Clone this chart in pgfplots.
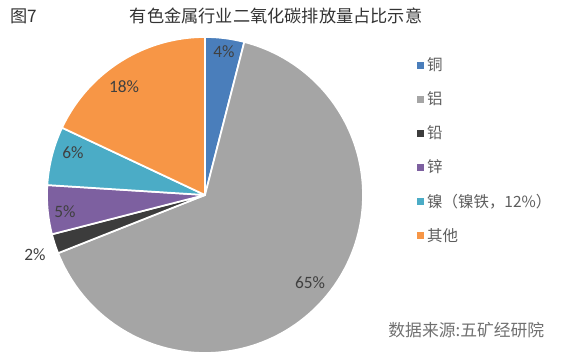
\documentclass[border=0pt]{standalone}
\usepackage{pgfplots}
\pgfplotsset{compat=1.18}
\usepackage{fontspec}
\setmainfont{Carlito}
\newfontfamily\cjk{Noto Sans CJK SC}
\definecolor{cCu}{HTML}{4A7EBB}
\definecolor{cAl}{HTML}{A5A5A5}
\definecolor{cPb}{HTML}{3C3C3C}
\definecolor{cZn}{HTML}{7D60A0}
\definecolor{cNi}{HTML}{4BACC6}
\definecolor{cOt}{HTML}{F79646}
\definecolor{txt}{HTML}{404040}
% #1 cumulative share before this slice (%), #2 share (%), #3 colour
\newcommand{\pieslice}[3]{%
  \addplot[fill=#3, draw=white, line width=1.3pt, line join=round,
    domain={90-3.6*(#1+#2)}:{90-3.6*(#1)}, samples=121, variable=\t]
    ({205+158*cos(\t)},{168+158*sin(\t)}) -- (axis cs:205,168) -- cycle;
}
\begin{document}
\begin{tikzpicture}
\begin{axis}[
  width=426pt, height=272.25pt, scale only axis,
  xmin=0, xmax=568, ymin=0, ymax=363,
  hide axis, clip=false,
  legend style={at={(axis cs:417,308)}, anchor=north west, draw=none, fill=none,
    font=\fontsize{11.6pt}{13pt}\selectfont\cjk, text=txt!85!white,
    row sep=10.3pt, cells={anchor=west}, inner sep=0pt},
  legend image code/.code={\fill[#1, draw=none] (0pt,-2.7pt) rectangle (5.4pt,2.7pt);},
]
\path (axis cs:0,0) (axis cs:568,363);
\pieslice{0}{4}{cCu}
\addlegendentry{铜}
\pieslice{4}{65}{cAl}
\addlegendentry{铝}
\pieslice{69}{2}{cPb}
\addlegendentry{铅}
\pieslice{71}{5}{cZn}
\addlegendentry{锌}
\pieslice{76}{6}{cNi}
\addlegendentry{镍（镍铁，12\%）}
\pieslice{82}{18}{cOt}
\addlegendentry{其他}
\begin{scope}[every node/.style={font=\fontsize{13pt}{14pt}\selectfont, text=txt}]
\node at (axis cs:224,311) {4\%};
\node at (axis cs:124,276) {18\%};
\node at (axis cs:73,210) {6\%};
\node at (axis cs:65,151) {5\%};
\node at (axis cs:35,108) {2\%};
\node at (axis cs:310,80) {65\%};
\end{scope}
\node[font=\fontsize{12.9pt}{14pt}\selectfont\cjk, text=txt!80!black] at (axis cs:276,347) {有色金属行业二氧化碳排放量占比示意};
\node[font=\fontsize{12.9pt}{14pt}\selectfont\cjk, text=txt!80!black, anchor=west] at (axis cs:6,347) {图7};
\node[font=\fontsize{12.6pt}{14pt}\selectfont\cjk, text=txt!75!white, anchor=east] at (axis cs:549,33) {数据来源:五矿经研院};
\end{axis}
\end{tikzpicture}
\end{document}
